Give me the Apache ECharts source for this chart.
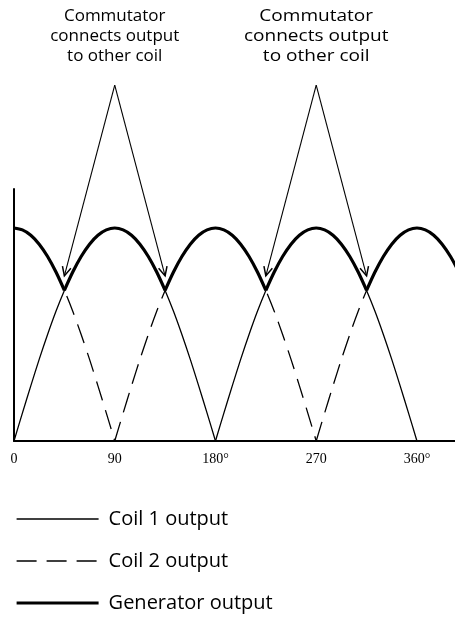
<!DOCTYPE html>
<html>
<head>
<meta charset="utf-8">
<script src="https://cdn.jsdelivr.net/npm/echarts@6/dist/echarts.min.js"></script>
<style>
html,body{margin:0;padding:0;background:#fff;}
#chart{width:455px;height:628px;}
</style>
</head>
<body>
<div id="chart"></div>
<script>
// ---- data (angle in degrees, output relative to peak) ----
const degrees = [0,7.5,15,22.5,30,37.5,45,52.5,60,67.5,75,82.5,90,97.5,105,112.5,120,127.5,135,142.5,150,157.5,165,172.5,180,187.5,195,202.5,210,217.5,225,232.5,240,247.5,255,262.5,270,277.5,285,292.5,300,307.5,315,322.5,330,337.5,345,352.5,360,367.5,375,382.5,390,397.5];
const coil1 = [0,.131,.259,.383,.5,.609,.707,.793,.866,.924,.966,.991,1,.991,.966,.924,.866,.793,.707,.609,.5,.383,.259,.131,0,.131,.259,.383,.5,.609,.707,.793,.866,.924,.966,.991,1,.991,.966,.924,.866,.793,.707,.609,.5,.383,.259,.131,0];
const coil2 = [1,.991,.966,.924,.866,.793,.707,.609,.5,.383,.259,.131,0,.131,.259,.383,.5,.609,.707,.793,.866,.924,.966,.991,1,.991,.966,.924,.866,.793,.707,.609,.5,.383,.259,.131,0,.131,.259,.383,.5,.609,.707,.793,.866,.924,.966,.991,1];
const generator = [1,.991,.966,.924,.866,.793,.707,.793,.866,.924,.966,.991,1,.991,.966,.924,.866,.793,.707,.793,.866,.924,.966,.991,1,.991,.966,.924,.866,.793,.707,.793,.866,.924,.966,.991,1,.991,.966,.924,.866,.793,.707,.793,.866,.924,.966,.991,1,.991,.966,.924,.866,.793];
// angles where a curve has a sharp corner
const coil1Corners = [180];
const coil2Corners = [90,270];
const generatorCorners = [45,135,225,315];
const seriesNames = ['Coil 1 output','Coil 2 output','Generator output'];
const xTickValues = [0,90,180,270,360];
const xTickLabels = ['0','90','180°','270','360°'];
// annotations: text, apex angle/value, arrow target angles/value
const annotationText = 'Commutator\nconnects output\nto other coil';
const annotationApexDeg = [90,270];
const annotationApexValue = 1.671;
const annotationTargets = [[45,135],[225,315]];
const annotationTargetValue = 0.775;

// split a series into smooth pieces that meet at the sharp corners
function pieces(values, corners){
  const out = [];
  let cur = [];
  values.forEach((v,i)=>{
    cur.push([degrees[i], v]);
    if (corners.indexOf(degrees[i]) >= 0){ out.push(cur); cur = [[degrees[i], v]]; }
  });
  if (cur.length > 1) out.push(cur);
  return out;
}

const styles = [
  {lineStyle:{color:'#000',width:1.3}, z:2},
  {lineStyle:{color:'#000',width:1.3,type:[20,10]}, z:2},
  {lineStyle:{color:'#000',width:3.2}, z:3}
];
const sets = [pieces(coil1, coil1Corners), pieces(coil2, coil2Corners), pieces(generator, generatorCorners)];
const series = [];
sets.forEach((segs, k)=>{
  segs.forEach(seg=>{
    series.push({name:seriesNames[k], type:'line', data:seg, smooth:0.3,
      showSymbol:false, symbol:'none', lineStyle:styles[k].lineStyle,
      itemStyle:{color:'#000'}, z:styles[k].z});
  });
});

const chart = echarts.init(document.getElementById('chart'), null, {renderer:'canvas'});
const SANS = '"Open Sans", "DejaVu Sans", sans-serif';
const SERIF = '"Liberation Serif", "DejaVu Serif", serif';

chart.setOption({
  animation:false,
  backgroundColor:'#fff',
  grid:{left:14,right:0,top:189,bottom:187,containLabel:false},
  xAxis:{
    type:'value',min:0,max:394,interval:90,
    axisLine:{show:true,onZero:false,lineStyle:{color:'#000',width:2}},
    axisTick:{show:false},splitLine:{show:false},
    axisLabel:{
      color:'#000',fontFamily:SERIF,fontSize:14,margin:11,showMaxLabel:false,
      formatter:v=>{const k=xTickValues.indexOf(v);return k>=0?xTickLabels[k]:'';}
    }
  },
  yAxis:{
    type:'value',min:0,max:1.183,
    axisLine:{show:true,lineStyle:{color:'#000',width:2}},
    axisTick:{show:false},splitLine:{show:false},axisLabel:{show:false}
  },
  legend:{
    orient:'vertical',left:15,top:509,padding:0,
    itemWidth:82,itemHeight:20,itemGap:22,itemTextGap:10,
    textStyle:{color:'#000',fontFamily:SANS,fontSize:20,padding:[0,0,0,5]},
    itemStyle:{opacity:0},
    data:seriesNames.map((n,k)=>({name:n, itemStyle:{opacity:0},
      lineStyle:{width:styles[k].lineStyle.width,type:styles[k].lineStyle.type||'solid',color:'#000'}}))
  },
  series:series
});

// build annotation graphics from data coordinates
const graphics = [];
annotationApexDeg.forEach((deg, a) => {
  const apex = chart.convertToPixel({gridIndex:0}, [deg, annotationApexValue]);
  graphics.push({
    type:'text', x:apex[0], y:6, scaleX: a===0 ? 1 : 1.12,
    style:{text:annotationText, x:0, y:0, align:'center', verticalAlign:'top',
      fontFamily:SANS, fontSize:17, lineHeight:20, fill:'#000'}
  });
  annotationTargets[a].forEach(t => {
    const tip = chart.convertToPixel({gridIndex:0}, [t, annotationTargetValue]);
    graphics.push({type:'line', shape:{x1:apex[0],y1:apex[1],x2:tip[0],y2:tip[1]},
      style:{stroke:'#000',lineWidth:1.1}});
    const ang = Math.atan2(apex[1]-tip[1], apex[0]-tip[0]);
    const L = 10, spread = 0.45;
    const p1 = [tip[0]+L*Math.cos(ang+spread), tip[1]+L*Math.sin(ang+spread)];
    const p2 = [tip[0]+L*Math.cos(ang-spread), tip[1]+L*Math.sin(ang-spread)];
    graphics.push({type:'polyline', shape:{points:[p1,tip,p2]},
      style:{stroke:'#000',lineWidth:1.5,fill:null}});
  });
});
chart.setOption({graphic:graphics});
</script>
</body>
</html>
